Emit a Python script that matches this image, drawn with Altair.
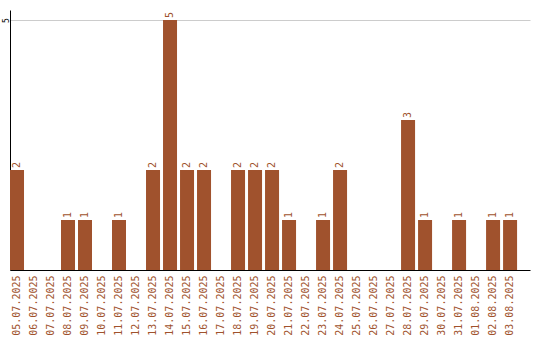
import altair as alt
import pandas as pd

dates = ["05.07.2025", "06.07.2025", "07.07.2025", "08.07.2025", "09.07.2025",
         "10.07.2025", "11.07.2025", "12.07.2025", "13.07.2025", "14.07.2025",
         "15.07.2025", "16.07.2025", "17.07.2025", "18.07.2025", "19.07.2025",
         "20.07.2025", "21.07.2025", "22.07.2025", "23.07.2025", "24.07.2025",
         "25.07.2025", "26.07.2025", "27.07.2025", "28.07.2025", "29.07.2025",
         "30.07.2025", "31.07.2025", "01.08.2025", "02.08.2025", "03.08.2025"]
counts = [2, 0, 0, 1, 1, 0, 1, 0, 2, 5,
          2, 2, 0, 2, 2, 2, 1, 0, 1, 2,
          0, 0, 0, 3, 1, 0, 1, 0, 1, 1]

df = pd.DataFrame({"date": dates, "count": counts})
color = "#A0522D"
font = "DejaVu Sans Mono"

x = alt.X("date:N", sort=dates, title=None,
          scale=alt.Scale(paddingInner=0.176, paddingOuter=0.38, align=0),
          axis=alt.Axis(labelAngle=270, labelColor=color, labelFont=font,
                        labelFontSize=10, ticks=False, domainColor="black",
                        labelPadding=5, labelBaseline="middle", labelAlign="right"))
y = alt.Y("count:Q", title=None,
          scale=alt.Scale(domain=[0, 5.2], nice=False),
          axis=alt.Axis(values=[5], labelAngle=270, labelFont=font, labelFontSize=8,
                        labelColor="black", ticks=False, domainColor="black",
                        gridColor="#cccccc", labelPadding=2,
                        labelAlign="center", labelBaseline="alphabetic"))

bars = alt.Chart(df).mark_bar(color=color).encode(x=x, y=y)
labels = alt.Chart(df).transform_filter("datum.count > 0").mark_text(
    angle=270, align="left", baseline="middle", dx=2, color=color,
    font=font, fontSize=10).encode(x=x, y=y, text="count:Q")

chart = (bars + labels).properties(
    width=520, height=260,
    autosize=alt.AutoSizeParams(type="none"),
    padding={"left": 10, "top": 10, "right": 10, "bottom": 70},
).configure_view(stroke=None).configure_axis(grid=False).configure_axisY(grid=True)

chart.save("out.html", embed_options={"renderer": "svg", "actions": False})
